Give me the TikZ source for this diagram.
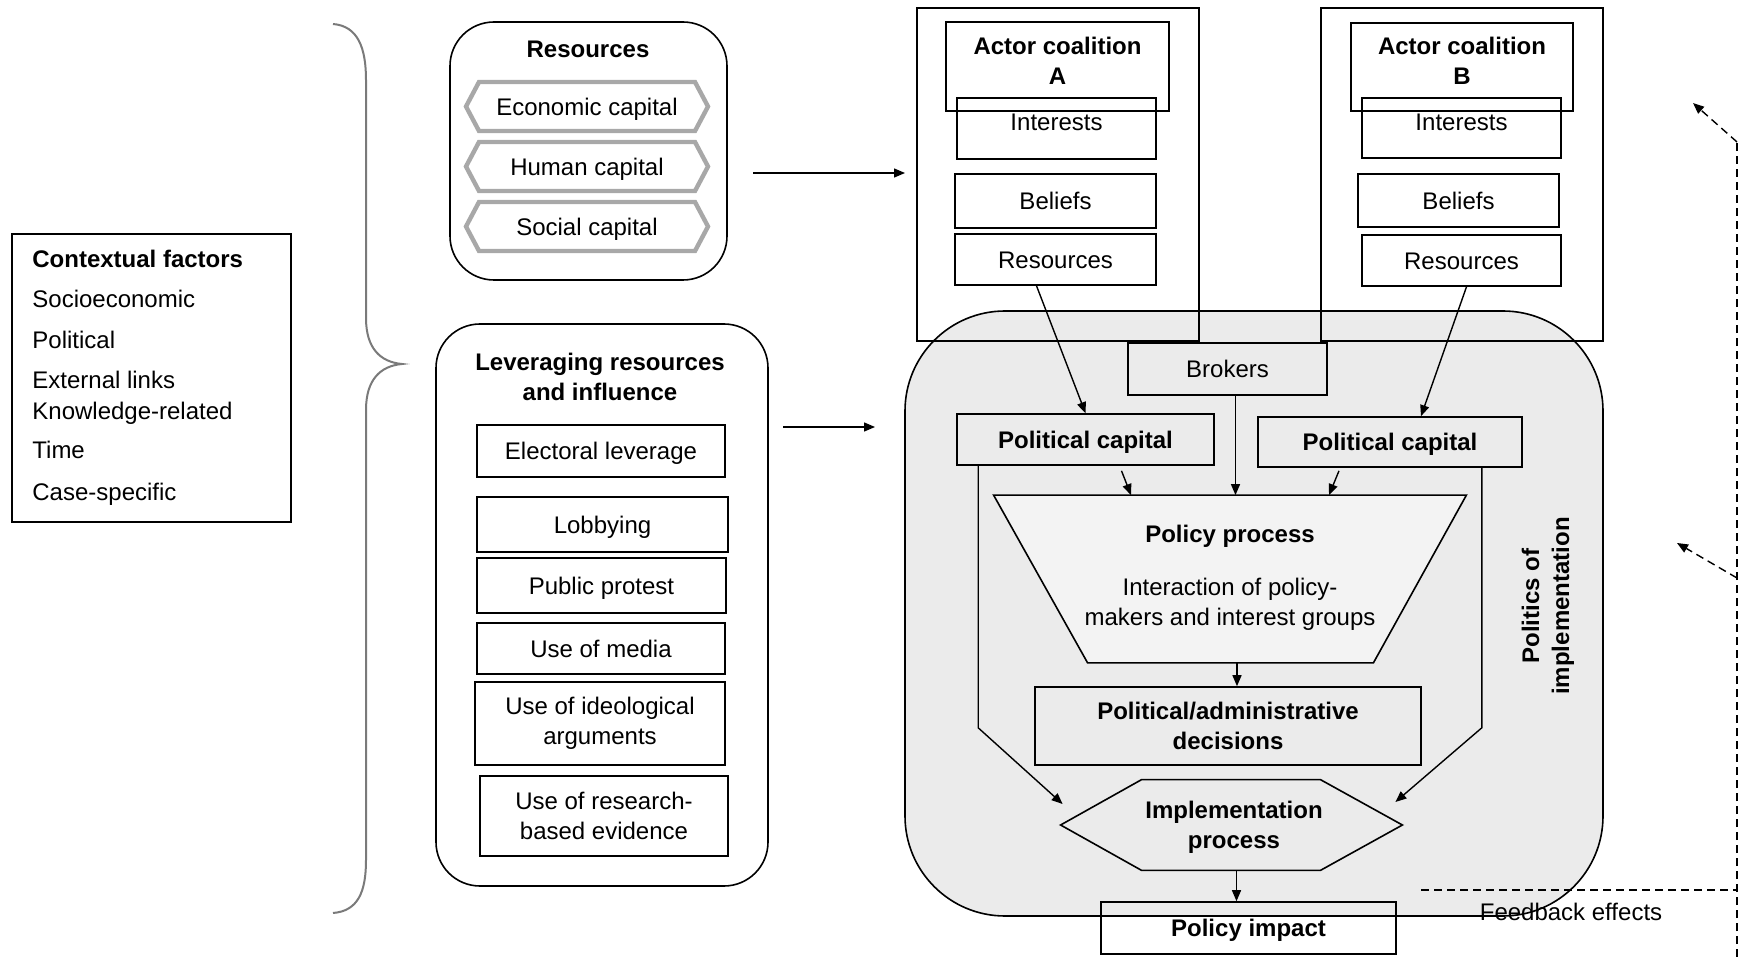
\documentclass[tikz,border=0pt]{standalone}
\usepackage{fontspec}
\setmainfont{Liberation Sans}
\usetikzlibrary{arrows.meta,calc}
\definecolor{regiongray}{HTML}{EBEBEB}
\definecolor{trapgray}{HTML}{F3F3F3}
\definecolor{hexgray}{HTML}{A8A8A8}
\definecolor{bracegray}{HTML}{7A7A7A}
\begin{document}
\begin{tikzpicture}[x=0.5pt,y=-0.5pt,
  every node/.style={font=\fontsize{12}{15}\selectfont, inner sep=0pt, align=center, text=black},
  tb/.style={font=\fontsize{12}{15}\selectfont\bfseries},
  oneline/.style={text height=8.6pt, text depth=0pt},
  sz/.style 2 args={minimum width=#1*0.5pt, minimum height=#2*0.5pt},
  bx/.style 2 args={draw, line width=0.8pt, minimum width=#1*0.5pt, minimum height=#2*0.5pt},
  arr/.style={-{Triangle[length=5.5pt,width=4.5pt]}, line width=0.7pt},
  dline/.style={line width=0.7pt, dash pattern=on 4pt off 2.5pt},
  darr/.style={dline, -{Triangle[length=5.5pt,width=4.5pt]}},
  hexs/.style={draw=hexgray, line width=2.2pt, line join=miter},
  bracestyle/.style={draw=bracegray, line width=1pt}
]
\fill[white] (0,0) rectangle (1741,957);
\useasboundingbox (0,0) rectangle (1741,957);

% ---------- Contextual factors ----------
\node[bx={279}{288}] (ctx) at (151.5,378) {};
\node[tb, oneline, anchor=west] (ctx0) at (32,259) {Contextual factors};
\node[oneline, anchor=west] (ctx1) at (32,299) {Socioeconomic};
\node[oneline, anchor=west] (ctx2) at (32,340) {Political};
\node[oneline, anchor=west] (ctx3) at (32,380) {External links};
\node[oneline, anchor=west] (ctx4) at (32,411) {Knowledge-related};
\node[oneline, anchor=west] (ctx5) at (32,450) {Time};
\node[oneline, anchor=west] (ctx6) at (32,492) {Case-specific};

% ---------- Brace ----------
\draw[bracestyle] (333,24) .. controls (358,26) and (366,48) .. (366,80)
  -- (366,318) .. controls (366,348) and (380,362) .. (402,364)
  .. controls (380,366) and (366,380) .. (366,410)
  -- (366,860) .. controls (366,892) and (358,911) .. (333,913);

% ---------- Resources ----------
\node[bx={277}{258}, rounded corners=22pt] (resbox) at (588.5,151) {};
\node[tb, oneline] (restitle) at (588,49) {Resources};
\draw[hexs] (479,82) -- (695,82) -- (708,106.5) -- (695,131) -- (479,131) -- (466,106.5) -- cycle;
\node[oneline] (econ) at (587,106.5) {Economic capital};
\draw[hexs] (479,142) -- (695,142) -- (708,166.5) -- (695,191) -- (479,191) -- (466,166.5) -- cycle;
\node[oneline] (human) at (587,166.5) {Human capital};
\draw[hexs] (479,202) -- (695,202) -- (708,226.5) -- (695,251) -- (479,251) -- (466,226.5) -- cycle;
\node[oneline] (social) at (587,226.5) {Social capital};

% ---------- Leveraging ----------
\node[bx={332}{562}, rounded corners=22pt] (levbox) at (602,605) {};
\node[tb] (levtitle) at (600,377) {Leveraging resources\\and influence};
\node[bx={248}{52}, oneline] (elec) at (601,451) {Electoral leverage};
\node[bx={251}{55}, oneline] (lobby) at (602.5,524.5) {Lobbying};
\node[bx={249}{55}, oneline] (protest) at (601.5,585.5) {Public protest};
\node[bx={248}{51}, oneline] (media) at (601,648.5) {Use of media};
\node[bx={250}{83}] (ideol) at (600,723.5) {Use of ideological\\arguments};
\node[bx={248}{80}] (research) at (604,816) {Use of research-\\based evidence};

% ---------- Gray region ----------
\node[draw, line width=0.8pt, fill=regiongray, rounded corners=50pt, sz={698}{605}] (region) at (1254,613.5) {};

% ---------- Actor coalition A ----------
\node[bx={282}{333}, line width=0.7pt] (actA) at (1058,174.5) {};
\node[bx={223}{89}] (actAt) at (1057.5,66.5) {};
\node[tb] (actAtext) at (1057.5,61) {Actor coalition\\A};
\node[bx={199}{61}, oneline, text depth=6.5pt] (intA) at (1056.5,128.5) {Interests};
\node[bx={201}{54}, oneline] (belA) at (1055.5,201) {Beliefs};
\node[bx={201}{51}, oneline] (resA) at (1055.5,259.5) {Resources};

% ---------- Actor coalition B ----------
\node[bx={282}{333}, line width=0.7pt] (actB) at (1462,174.5) {};
\node[bx={222}{88}] (actBt) at (1462,67) {};
\node[tb] (actBtext) at (1462,61) {Actor coalition\\B};
\node[bx={199}{60}, oneline, text depth=6.5pt] (intB) at (1461.5,128) {Interests};
\node[bx={201}{53}, oneline] (belB) at (1458.5,200.5) {Beliefs};
\node[bx={199}{51}, oneline] (resB) at (1461.5,260.5) {Resources};

% ---------- inside region ----------
\node[bx={199}{52}, oneline] (brokers) at (1227.5,369) {Brokers};
\node[bx={257}{51}, oneline, tb] (pcA) at (1085.5,439.5) {Political capital};
\node[bx={264}{50}, oneline, tb] (pcB) at (1390,442) {Political capital};

% policy process trapezoid
\node[sz={472}{167}] (trap) at (1230,579) {};
\draw[line width=0.8pt, fill=trapgray] (trap.north west) -- (trap.north east)
  -- ([xshift=-46.5pt]trap.south east) -- ([xshift=47pt]trap.south west) -- cycle;
\node[tb, oneline] (pptitle) at (1230,534) {Policy process};
\node (pptext) at (1230,604) {Interaction of policy-\\makers and interest groups};

\node[bx={386}{78}, tb] (dec) at (1228,726) {Political/administrative\\decisions};

% implementation hexagon
\node[sz={341}{90}] (impl) at (1231.5,825) {};
\draw[line width=0.8pt] (impl.west) -- ([xshift=40.5pt]impl.north west) -- ([xshift=-41pt]impl.north east)
  -- (impl.east) -- ([xshift=-41pt]impl.south east) -- ([xshift=40.5pt]impl.south west) -- cycle;
\node[tb] (impltext) at (1234,827) {Implementation\\process};

\node[bx={295}{52}, oneline, tb] (pimp) at (1248.5,928) {Policy impact};

\node[tb, rotate=90] (politics) at (1548,606) {Politics of\\implementation};

% ---------- connectors ----------
\coordinate (r1) at (753,173);
\coordinate (r2) at (905,173);
\draw[arr] (r1) -- (r2);
\coordinate (l1) at (783,427);
\coordinate (l2) at (875,427);
\draw[arr] (l1) -- (l2);

\draw[arr] ([xshift=-9.5pt]resA.south) -- (pcA.north);
\draw[arr] ([xshift=2.5pt]resB.south) -- ([xshift=15.5pt]pcB.north);

\draw[arr] ([xshift=18pt,yshift=-2.5pt]pcA.south) -- ([xshift=-49.5pt]trap.north);
\draw[arr] ([xshift=4pt]brokers.south) -- ([xshift=4pt]brokers.south |- trap.north);
\draw[arr] ([xshift=-25.5pt,yshift=-1.5pt]pcB.south) -- ([xshift=49.5pt]trap.north);

\draw[arr] ([xshift=3.5pt]trap.south) -- ([xshift=3.5pt]trap.south |- dec.north);

\draw[arr] ([xshift=11pt]pcA.south west) -- ++(0,262) -- ([xshift=1pt,yshift=10.5pt]impl.west);
\draw[arr] ([xshift=-20.5pt]pcB.south east) -- ++(0,260) -- ([xshift=-3.5pt,yshift=11.5pt]impl.east);

\draw[arr] ([xshift=2.5pt]impl.south) -- ([xshift=2.5pt]impl.south |- pimp.north);

% ---------- feedback ----------
\coordinate (fbStart) at (1421,890);
\coordinate (fbCorner) at (1737,890);
\coordinate (fbBottom) at (1737,957);
\coordinate (fbTop) at (1737,142);
\coordinate (fbTip1) at (1693,103);
\coordinate (fbMid) at (1737,578);
\coordinate (fbTip2) at (1677,543);
\draw[dline] (fbStart) -- (fbCorner);
\draw[dline] (fbBottom) -- (fbTop);
\draw[darr] (fbTop) -- (fbTip1);
\draw[darr] (fbMid) -- (fbTip2);
\node[oneline] (fbtext) at (1571,912) {Feedback effects};

\end{tikzpicture}
\end{document}
